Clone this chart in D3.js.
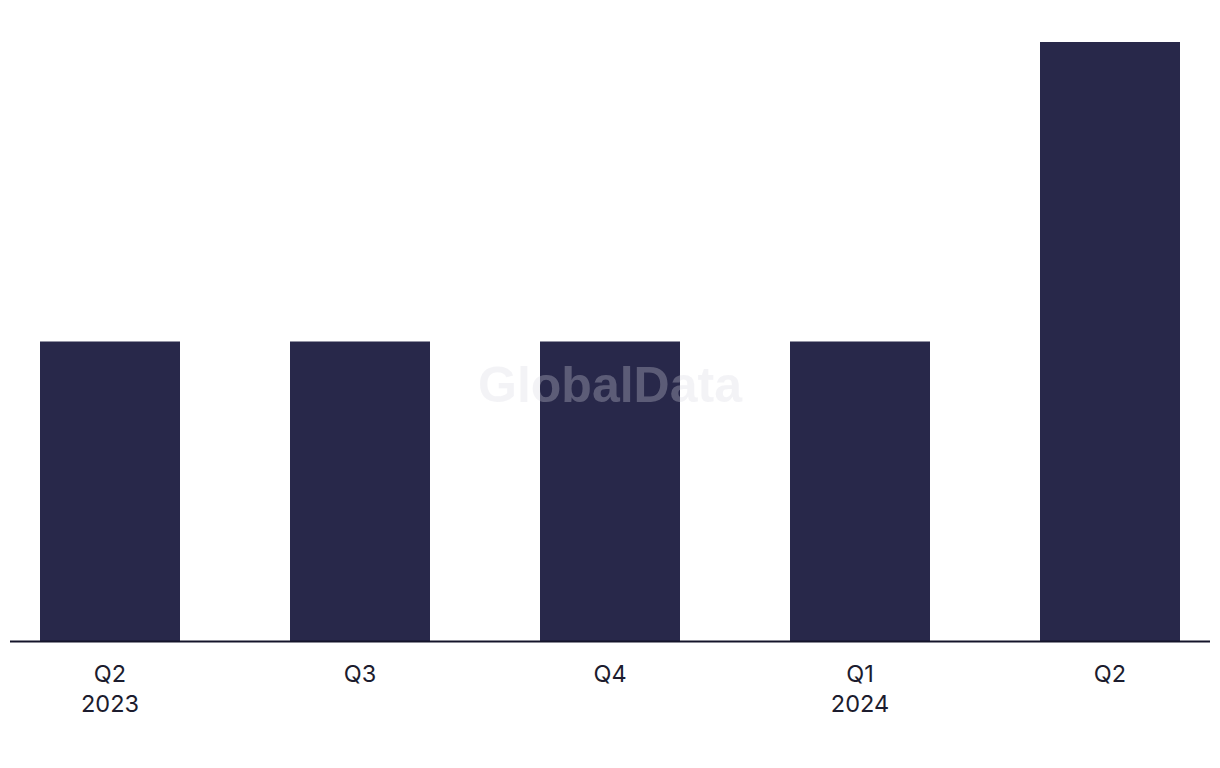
<!DOCTYPE html>
<html><head><meta charset="utf-8">
<script src="https://cdn.jsdelivr.net/npm/d3@7"></script>
<style>body{margin:0;background:#fff}svg{display:block}</style>
</head><body>
<svg id="chart" width="1220" height="768"></svg>
<script>
const quarters = ["Q2", "Q3", "Q4", "Q1", "Q2"];
const years = ["2023", "", "", "2024", ""];
const values = [1, 1, 1, 1, 2];

const svg = d3.select("#chart");
const W = 1220, H = 768;
const baseY = 641, topY = 42;
const keys = values.map((d, i) => i);
const x = d3.scaleBand().domain(keys).range([40, 1180]).paddingInner(0.44).paddingOuter(0);
const y = d3.scaleLinear().domain([0, d3.max(values)]).range([baseY, topY]);

svg.append("g").selectAll("rect").data(values).join("rect")
  .attr("x", (d, i) => x(i)).attr("width", x.bandwidth())
  .attr("y", d => y(d)).attr("height", d => baseY - y(d))
  .attr("fill", "#28284a");

svg.append("text").attr("x", 610).attr("y", 402).attr("text-anchor", "middle")
  .attr("font-family", "Liberation Sans, Arial, sans-serif").attr("font-weight", "bold")
  .attr("font-size", 50).attr("fill", "#d8d8e0").attr("fill-opacity", 0.3)
  .text("GlobalData");

const axis = d3.axisBottom(x).tickSize(0).tickPadding(0).tickFormat(() => "");
const ax = svg.append("g").attr("transform", `translate(0,${baseY})`).call(axis);
ax.select(".domain").remove();
svg.append("line").attr("x1", 10).attr("x2", 1210).attr("y1", baseY + 0.5).attr("y2", baseY + 0.5)
  .attr("stroke", "#14142a").attr("stroke-width", 2);

ax.selectAll(".tick").each(function(d) {
  const t = d3.select(this).select("text").attr("y", 0).attr("dy", null)
    .attr("font-family", "Inter, sans-serif").attr("font-size", 23.5).attr("fill", "#1c1c2e");
  t.append("tspan").attr("x", 0).attr("y", 41).text(quarters[d]);
  if (years[d]) t.append("tspan").attr("x", 0).attr("y", 71).text(years[d]);
});
</script>
</body></html>
